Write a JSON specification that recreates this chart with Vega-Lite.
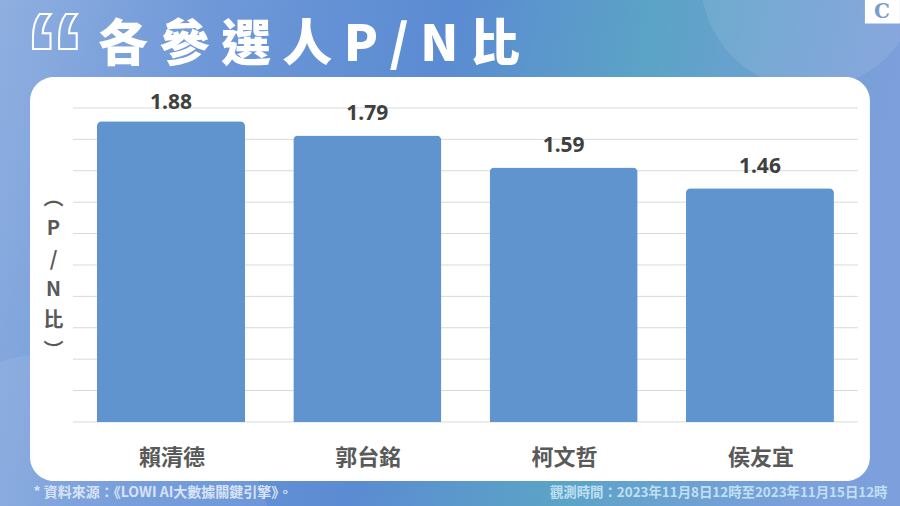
{
  "$schema": "https://vega.github.io/schema/vega-lite/v6.json",
  "width": 840,
  "height": 404,
  "autosize": "none",
  "padding": {"left": 30, "top": 77, "right": 30, "bottom": 25},
  "background": "#6d97d8",
  "config": {
    "view": {"stroke": null},
    "font": "Noto Sans CJK TC"
  },
  "datasets": {
    "bars": [
      {"name": "賴清德", "pn": 1.88},
      {"name": "郭台銘", "pn": 1.79},
      {"name": "柯文哲", "pn": 1.59},
      {"name": "侯友宜", "pn": 1.46}
    ],
    "grid": [
      {"v": 0}, {"v": 0.19625}, {"v": 0.3925}, {"v": 0.58875}, {"v": 0.785},
      {"v": 0.98125}, {"v": 1.1775}, {"v": 1.37375}, {"v": 1.57}, {"v": 1.76625}, {"v": 1.9625}
    ]
  },
  "resolve": {"axis": {"y": "independent"}},
  "layer": [
    {
      "data": {"values": [{"part": "background"}]},
      "mark": {
        "type": "rect",
        "xOffset": -171,
        "x2Offset": 140,
        "color": {
          "gradient": "linear",
          "x1": 0, "y1": 0, "x2": 1, "y2": 0.12,
          "stops": [
            {"offset": 0, "color": "#8fafe0"},
            {"offset": 0.25, "color": "#6d97d8"},
            {"offset": 0.5, "color": "#5b8bd2"},
            {"offset": 0.72, "color": "#5ba3c6"},
            {"offset": 1, "color": "#7d9fdb"}
          ]
        }
      },
      "encoding": {
        "x": {
          "datum": "賴清德",
          "type": "nominal",
          "scale": {
            "domain": ["賴清德", "郭台銘", "柯文哲", "侯友宜"],
            "paddingInner": 0.246,
            "paddingOuter": 0.2625,
            "align": 0.65
          },
          "axis": {
            "title": "* 資料來源：《LOWI AI大數據關鍵引擎》。",
            "titleX": 3,
            "titleY": 11,
            "titleAlign": "left",
            "titleBaseline": "middle",
            "titleFontSize": 14,
            "titleFontWeight": "bold",
            "titleColor": "#d8e3f5",
            "labels": false,
            "ticks": false,
            "domain": false,
            "grid": false,
            "zindex": 1
          }
        },
        "x2": {"datum": "侯友宜"},
        "y": {
          "datum": 2.6375,
          "type": "quantitative",
          "scale": {"domain": [-0.369, 2.156], "nice": false, "zero": false},
          "axis": {
            "title": ["︵", "P", "/", "N", "比", "︶"],
            "titleAngle": 0,
            "titleX": 23,
            "titleY": 111,
            "titleAlign": "center",
            "titleBaseline": "top",
            "titleFontSize": 20,
            "titleFontWeight": "bold",
            "titleLineHeight": 30.6,
            "titleColor": "#595959",
            "labels": false,
            "ticks": false,
            "domain": false,
            "grid": false,
            "zindex": 1
          }
        },
        "y2": {"datum": -0.525}
      }
    },
    {
      "data": {"values": [{"part": "arc top right"}]},
      "mark": {"type": "point", "shape": "circle", "filled": true, "color": "white", "opacity": 0.09, "size": 47500, "xOffset": 50},
      "encoding": {
        "x": {"datum": "侯友宜", "type": "nominal"},
        "y": {
          "datum": 2.7625,
          "type": "quantitative",
          "axis": {
            "orient": "right",
            "title": "觀測時間：2023年11月8日12時至2023年11月15日12時",
            "titleAngle": 0,
            "titleX": 17,
            "titleY": 415,
            "titleAlign": "right",
            "titleBaseline": "middle",
            "titleFontSize": 13.4,
            "titleFontWeight": "bold",
            "titleColor": "#bfe0f2",
            "labels": false,
            "ticks": false,
            "domain": false,
            "grid": false,
            "zindex": 1
          }
        }
      }
    },
    {
      "data": {"values": [{"part": "arc bottom left"}]},
      "mark": {"type": "point", "shape": "circle", "filled": true, "color": "white", "opacity": 0.08, "size": 188500, "xOffset": -111},
      "encoding": {
        "x": {"datum": "賴清德", "type": "nominal"},
        "y": {"datum": -0.925, "type": "quantitative", "axis": null}
      }
    },
    {
      "data": {"values": [{"part": "panel"}]},
      "mark": {"type": "rect", "color": "white", "cornerRadius": 24, "xOffset": -141, "x2Offset": 110},
      "encoding": {
        "x": {"datum": "賴清德", "type": "nominal"},
        "x2": {"datum": "侯友宜"},
        "y": {"datum": 2.156, "type": "quantitative", "axis": null},
        "y2": {"datum": -0.369}
      }
    },
    {
      "data": {"name": "grid"},
      "mark": {"type": "rule", "color": "#d9d9d9", "strokeWidth": 1, "xOffset": -98, "x2Offset": 98},
      "encoding": {
        "x": {"datum": "賴清德", "type": "nominal"},
        "x2": {"datum": "侯友宜"},
        "y": {"field": "v", "type": "quantitative", "axis": null}
      }
    },
    {
      "data": {"name": "bars"},
      "mark": {"type": "bar", "color": "#5f94cf", "cornerRadiusTopLeft": 5, "cornerRadiusTopRight": 5},
      "encoding": {
        "x": {"field": "name", "type": "nominal", "sort": null},
        "y": {"field": "pn", "type": "quantitative", "axis": null}
      }
    },
    {
      "data": {"name": "bars"},
      "transform": [{"filter": "datum.pn < 1.8"}],
      "mark": {"type": "text", "dy": -21.5, "fontSize": 21, "fontWeight": "bold", "color": "#404040", "font": "Noto Sans"},
      "encoding": {
        "x": {"field": "name", "type": "nominal", "sort": null},
        "y": {"field": "pn", "type": "quantitative", "axis": null},
        "text": {"field": "pn", "type": "quantitative", "format": ".2f"}
      }
    },
    {
      "data": {"name": "bars"},
      "transform": [{"filter": "datum.pn > 1.8"}],
      "mark": {"type": "text", "dy": -18, "fontSize": 21, "fontWeight": "bold", "color": "#404040", "font": "Noto Sans"},
      "encoding": {
        "x": {"field": "name", "type": "nominal", "sort": null},
        "y": {"field": "pn", "type": "quantitative", "axis": null},
        "text": {"field": "pn", "type": "quantitative", "format": ".2f"}
      }
    },
    {
      "data": {"name": "bars"},
      "mark": {"type": "text", "fontSize": 22, "fontWeight": "bold", "color": "#595959", "xOffset": 1},
      "encoding": {
        "x": {"field": "name", "type": "nominal", "sort": null},
        "y": {"datum": -0.225, "type": "quantitative", "axis": null},
        "text": {"field": "name", "type": "nominal"}
      }
    },
    {
      "data": {"values": [{"label": "各 參 選 人 P / N 比"}]},
      "mark": {"type": "text", "align": "left", "baseline": "alphabetic", "xOffset": -73, "fontSize": 50, "fontWeight": 900, "color": "white"},
      "encoding": {
        "x": {"datum": "賴清德", "type": "nominal"},
        "y": {"datum": 2.256, "type": "quantitative", "axis": null},
        "text": {"field": "label", "type": "nominal"}
      }
    },
    {
      "data": {"values": [{"label": "“"}]},
      "mark": {"type": "text", "xOffset": -116, "fontSize": 125, "font": "Liberation Sans", "fontWeight": "bold", "fill": "transparent", "stroke": "white", "strokeWidth": 2, "baseline": "top", "dy": -21},
      "encoding": {
        "x": {"datum": "賴清德", "type": "nominal"},
        "y": {"datum": 2.5, "type": "quantitative", "axis": null},
        "text": {"field": "label", "type": "nominal"}
      }
    },
    {
      "data": {"values": [{"label": "logo"}]},
      "mark": {"type": "point", "shape": "square", "filled": true, "opacity": 1, "color": "white", "size": 1225, "xOffset": 122.5},
      "encoding": {
        "x": {"datum": "侯友宜", "type": "nominal"},
        "y": {"datum": 2.6, "type": "quantitative", "axis": null}
      }
    },
    {
      "data": {"values": [{"label": "C"}]},
      "mark": {"type": "text", "xOffset": 122, "fontSize": 20, "font": "DejaVu Serif", "fontWeight": "bold", "color": "#7b9dd0"},
      "encoding": {
        "x": {"datum": "侯友宜", "type": "nominal"},
        "y": {"datum": 2.56, "type": "quantitative", "axis": null},
        "text": {"field": "label", "type": "nominal"}
      }
    }
  ]
}
